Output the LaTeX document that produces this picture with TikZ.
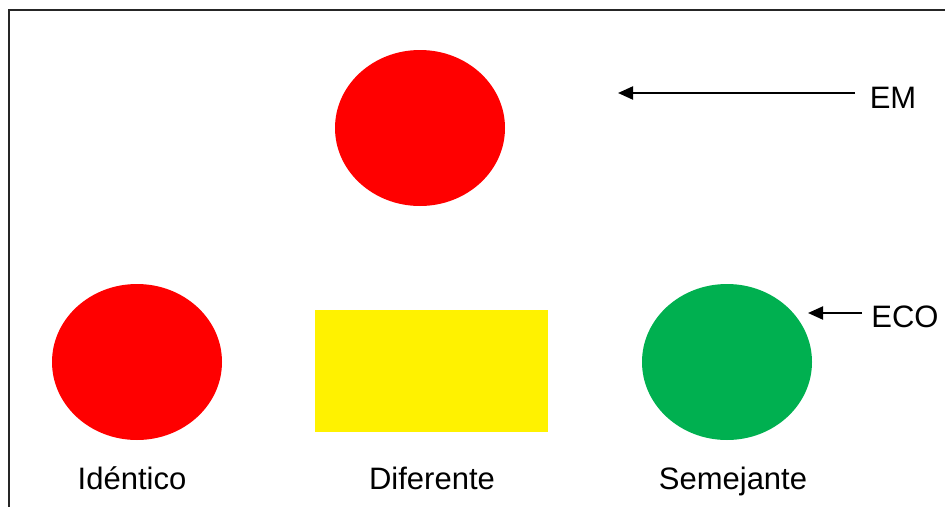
\documentclass[tikz,border=0pt]{standalone}
\usepackage{fontspec}
\setmainfont{Liberation Sans}
\usetikzlibrary{arrows.meta,shapes.geometric}
\definecolor{ecogreen}{HTML}{00B050}
\begin{document}
\begin{tikzpicture}[x=1pt,y=-1pt,
  lbl/.style={font=\fontsize{31}{36}\selectfont, inner sep=0pt, anchor=base},
  blob/.style={ellipse, inner sep=0pt, minimum width=170pt, minimum height=156pt},
  ptr/.style={line width=2pt, -{Triangle[length=15pt,width=13pt]}},
  frame/.style={line width=2pt, draw=black!85}]
\useasboundingbox (0,0) rectangle (945,506);
\draw[frame] (9,520) -- (9,10) -- (960,10);
\node[blob, fill=red] (top) at (420,128) {};
\node[blob, fill=red] (left) at (137,362) {};
\node[rectangle, fill=yellow, inner sep=0pt, minimum width=233pt, minimum height=122pt] (mid) at (431.5,371) {};
\node[blob, fill=ecogreen] (right) at (727,362) {};
\node[lbl] (tEM) at (893,108) {EM};
\node[lbl] (tECO) at (905,327) {ECO};
\coordinate (emtip) at (618,93);
\coordinate (emtail) at (855,93);
\coordinate (ecotip) at (808,313);
\coordinate (ecotail) at (862,313);
\draw[ptr] (emtail) -- (emtip);
\draw[ptr] (ecotail) -- (ecotip);
\node[lbl] (t1) at (132,489) {Idéntico};
\node[lbl] (t2) at (432,489) {Diferente};
\node[lbl] (t3) at (733,489) {Semejante};
\end{tikzpicture}
\end{document}
